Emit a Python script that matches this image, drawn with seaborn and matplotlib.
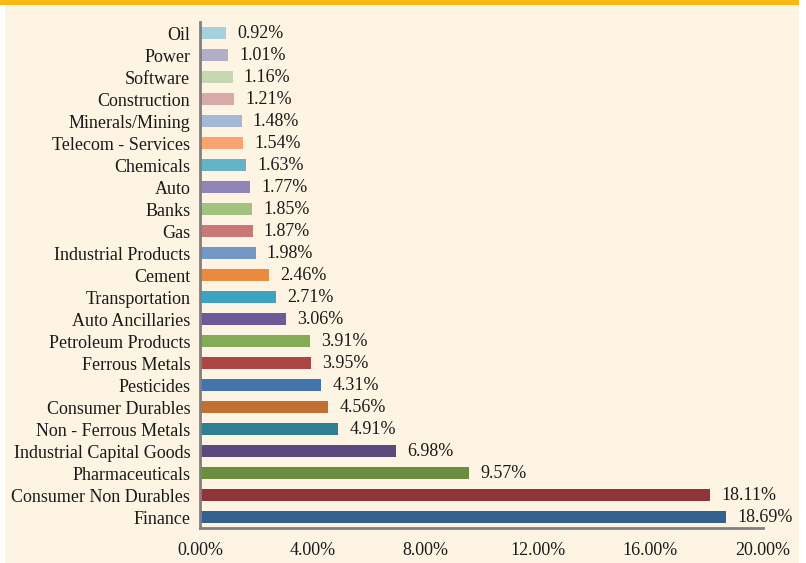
import seaborn as sns
import numpy as np
import pandas as pd
import matplotlib.pyplot as plt
from matplotlib.patches import Rectangle

# Sector allocation (%), top to bottom as drawn
sectors = ["Oil", "Power", "Software", "Construction", "Minerals/Mining",
           "Telecom - Services", "Chemicals", "Auto", "Banks", "Gas",
           "Industrial Products", "Cement", "Transportation", "Auto Ancillaries",
           "Petroleum Products", "Ferrous Metals", "Pesticides", "Consumer Durables",
           "Non - Ferrous Metals", "Industrial Capital Goods", "Pharmaceuticals",
           "Consumer Non Durables", "Finance"]
weights = [0.92, 1.01, 1.16, 1.21, 1.48, 1.54, 1.63, 1.77, 1.85, 1.87,
           1.98, 2.46, 2.71, 3.06, 3.91, 3.95, 4.31, 4.56, 4.91, 6.98,
           9.57, 18.11, 18.69]
bar_colors = ["#A5D1DD", "#B4AECB", "#C5D8B1", "#D8A9A9", "#A5B9D6",
              "#F9A56F", "#64B3C6", "#9083B5", "#A2C37F", "#C97777",
              "#7398C8", "#E88A3F", "#3DA3BF", "#6E5A99", "#84AC57",
              "#AE4545", "#4275AE", "#C07030", "#2E7F94", "#5A4A7E",
              "#6B8E3E", "#8F3535", "#35618F"]
x_ticks = [0, 4, 8, 12, 16, 20]

df = pd.DataFrame({"sector": sectors, "weight": weights})

sns.set_style("white")
plt.rcParams["font.family"] = ["Liberation Serif", "DejaVu Serif"]

cream = "#FEF4E4"
txt = "#1a1a1a"
fig = plt.figure(figsize=(8.06, 5.63), dpi=100)
fig.patch.set_facecolor("white")
# cream panel and orange strip along the top
fig.patches.append(Rectangle((5 / 806, 0), 794 / 806, 1, transform=fig.transFigure,
                             facecolor=cream, edgecolor="none", zorder=-2))
fig.patches.append(Rectangle((0, 1 - 5 / 563), 799 / 806, 5 / 563, transform=fig.transFigure,
                             facecolor="#FDB913", edgecolor="none", zorder=-1))

ax = fig.add_axes([200 / 806, 35 / 563, 563 / 806, 506 / 563])
ax.set_facecolor(cream)

sns.barplot(data=df, y="sector", x="weight", hue="sector", palette=bar_colors,
            order=sectors, legend=False, width=0.58, saturation=1,
            linewidth=0, ax=ax)

for c in ax.containers:
    ax.bar_label(c, labels=[f"{v:.2f}%" for v in c.datavalues], padding=8,
                 fontsize=13, color=txt)

ax.set_xlim(0, 20)
ax.set_ylim(len(sectors) - 0.5, -0.5)
ax.set_xticks(x_ticks)
ax.set_xticklabels([f"{t:.2f}%" for t in x_ticks], fontsize=13, color=txt)
ax.set_yticks(range(len(sectors)))
ax.set_yticklabels(sectors, fontsize=13, color=txt)
ax.set_yticks(np.arange(-0.5, len(sectors) - 0.5, 1), minor=True)
ax.tick_params(axis="y", which="major", length=0, pad=7)
ax.tick_params(axis="y", which="minor", length=6, width=1.2, color="#808080", direction="out")
ax.tick_params(axis="x", which="major", length=5, width=1.2, color="#808080",
               direction="out", pad=5)
ax.set_xlabel("")
ax.set_ylabel("")

sns.despine(ax=ax, top=True, right=True)
for s in ["left", "bottom"]:
    ax.spines[s].set_color("#808080")
    ax.spines[s].set_linewidth(2)

fig.savefig("out.png", dpi=100, facecolor=fig.get_facecolor())
